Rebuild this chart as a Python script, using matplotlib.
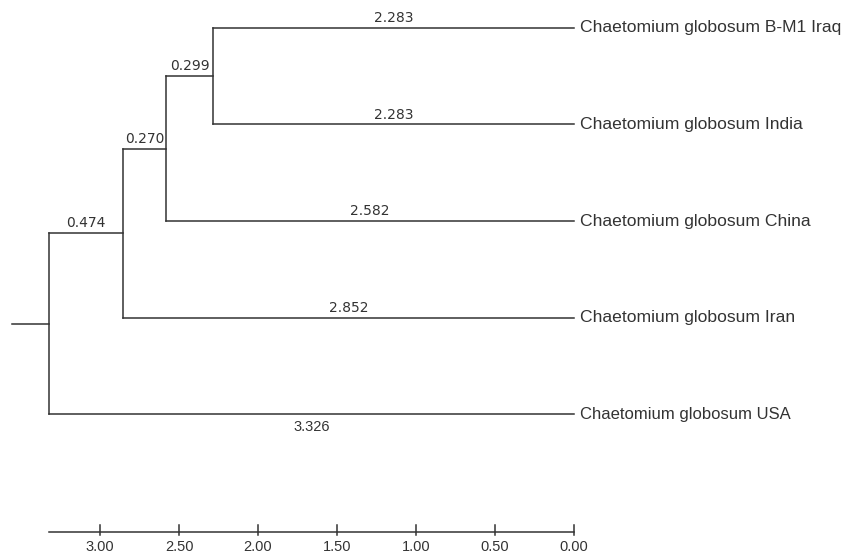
import matplotlib.pyplot as plt

# tips, top to bottom
leaves = ["Chaetomium globosum B-M1 Iraq",
          "Chaetomium globosum India",
          "Chaetomium globosum China",
          "Chaetomium globosum Iran",
          "Chaetomium globosum USA"]
# heights of internal nodes; node k joins the clade above with leaves[k+1]
node_heights = [2.283, 2.582, 2.852, 3.326]
tick_values = [3.00, 2.50, 2.00, 1.50, 1.00, 0.50, 0.00]

col = '#333333'
lw = 1.1
sans = ['Liberation Sans', 'DejaVu Sans']

fig = plt.figure(figsize=(8.5, 5.53), dpi=100)
ax = fig.add_axes([0, 0, 1, 1])
ax.set_xlim(3.633, -1.747)
ax.set_ylim(5.44, -0.29)
ax.axis('off')

# leaf labels
for i, name in enumerate(leaves):
    size = 12 if i == len(leaves) - 1 else 12.6
    ax.text(-0.04, i, name, ha='left', va='center', fontsize=size,
            color=col, family=sans)

# walk the caterpillar tree
clade_y = 0.0
clade_h = 0.0
for k, h in enumerate(node_heights):
    leaf_y = k + 1
    # horizontal branch of the clade above
    ax.plot([h, clade_h], [clade_y, clade_y], color=col, lw=lw)
    # horizontal branch to the new leaf
    ax.plot([h, 0], [leaf_y, leaf_y], color=col, lw=lw)
    # vertical connector
    ax.plot([h, h], [clade_y, leaf_y], color=col, lw=lw)
    # branch length labels
    ax.text((h + clade_h) / 2, clade_y - 0.03, f"{h - clade_h:.3f}",
            ha='center', va='bottom', fontsize=10, color=col)
    if k == len(node_heights) - 1:
        ax.text(h / 2, leaf_y + 0.06, f"{h:.3f}", ha='center', va='top',
                fontsize=10.5, color=col, family=sans)
    else:
        ax.text(h / 2, leaf_y - 0.03, f"{h:.3f}", ha='center', va='bottom',
                fontsize=10, color=col)
    clade_y = (clade_y + leaf_y) / 2
    clade_h = h

# root stub
ax.plot([3.557, clade_h], [clade_y, clade_y], color=col, lw=lw)

# scale axis
axis_y = 5.22
ax.plot([clade_h, 0], [axis_y, axis_y], color=col, lw=lw)
for t in tick_values:
    ax.plot([t, t], [axis_y - 0.07, axis_y + 0.03], color=col, lw=lw)
    ax.text(t, axis_y + 0.09, f"{t:.2f}", ha='center', va='top',
            fontsize=10.5, color=col, family=sans)

fig.savefig('out.png', dpi=100)
